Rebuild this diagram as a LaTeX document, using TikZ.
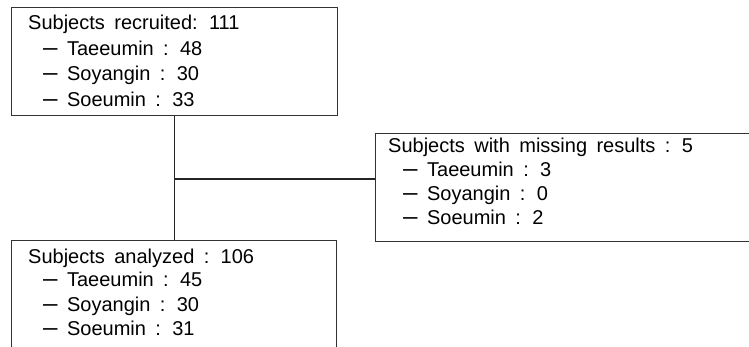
\documentclass[tikz,border=0pt]{standalone}
\usepackage{fontspec}
\setmainfont[WordSpace=1.7]{Liberation Sans}
\newcommand{\ldash}{\scalebox{1.3}[1.2]{–}}
\begin{document}
\begin{tikzpicture}[x=1pt,y=-1pt,
  boxst/.style={draw=black!80,line width=1.3pt,rectangle,inner sep=0pt,anchor=north west},
  txt/.style={anchor=base west,inner sep=0pt,font=\fontsize{20}{24}\selectfont,text=black},
  conn/.style={draw=black!85,line width=1.2pt}]
\useasboundingbox (0,0) rectangle (749,347);
\clip (0,0) rectangle (749,347);
% boxes
\node[boxst,minimum width=326pt,minimum height=108pt] (b1) at (11,7) {};
\node[boxst,minimum width=420pt,minimum height=108pt] (b2) at (375,133) {};
\node[boxst,minimum width=325pt,minimum height=140pt] (b3) at (11,240) {};
% connectors
\coordinate (j) at (b1.south |- 0,179);
\draw[conn] (b1.south) -- (b1.south |- b3.north);
\draw[conn] (j) -- (j -| b2.west);
% texts box 1
\node[txt] (t11) at (28,30) {Subjects recruited: 111};
\node[txt] (t12) at (43,55.5) {\ldash{} Taeeumin : 48};
\node[txt] (t13) at (43,81) {\ldash{} Soyangin : 30};
\node[txt] (t14) at (43,107) {\ldash{} Soeumin : 33};
% texts box 2
\node[txt] (t21) at (388,153) {Subjects with missing results : 5};
\node[txt] (t22) at (403,177) {\ldash{} Taeeumin : 3};
\node[txt] (t23) at (403,201) {\ldash{} Soyangin : 0};
\node[txt] (t24) at (403,225) {\ldash{} Soeumin : 2};
% texts box 3
\node[txt] (t31) at (28,263) {Subjects analyzed : 106};
\node[txt] (t32) at (43,287) {\ldash{} Taeeumin : 45};
\node[txt] (t33) at (43,311) {\ldash{} Soyangin : 30};
\node[txt] (t34) at (43,335) {\ldash{} Soeumin : 31};
\end{tikzpicture}
\end{document}
